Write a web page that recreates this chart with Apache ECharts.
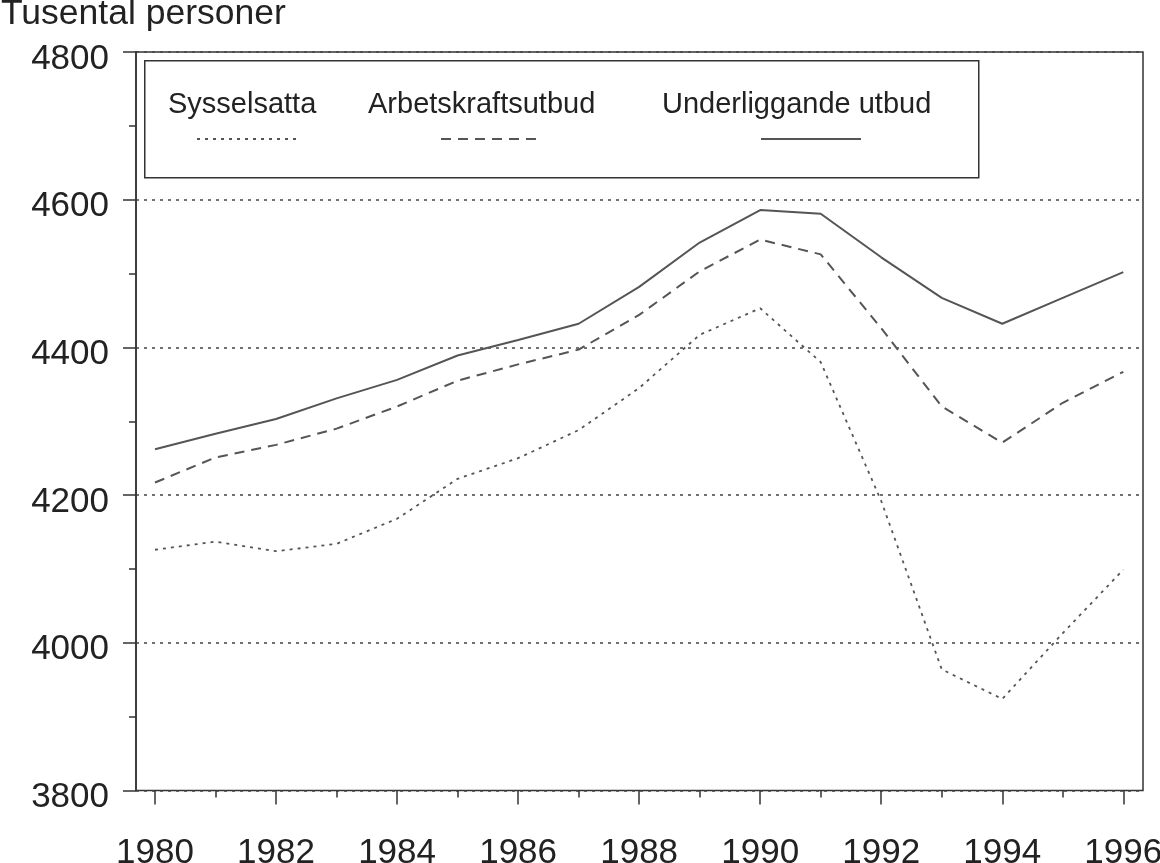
<!DOCTYPE html>
<html>
<head>
<meta charset="utf-8">
<script src="https://cdn.jsdelivr.net/npm/echarts@6/dist/echarts.min.js"></script>
<style>
  html, body { margin: 0; padding: 0; background: #fff; }
  #chart { width: 1160px; height: 863px; }
</style>
</head>
<body>
<div id="chart"></div>
<script>
// ---- data ----
const years = [1980,1981,1982,1983,1984,1985,1986,1987,1988,1989,1990,1991,1992,1993,1994,1995,1996];
const sysselsatta = [4126,4137,4124,4134,4168,4222,4250,4288,4345,4417,4453,4380,4192,3964,3924,4013,4099];
const arbetskraftsutbud = [4217,4251,4268,4290,4320,4355,4377,4397,4444,4503,4546,4526,4426,4320,4271,4325,4367];
const underliggandeUtbud = [4262,4283,4303,4331,4356,4389,4410,4432,4482,4542,4586,4581,4522,4467,4432,4467,4502];
const seriesNames = ['Sysselsatta', 'Arbetskraftsutbud', 'Underliggande utbud'];
const yMin = 3800, yMax = 4800, yStep = 200;
const xMin = 1980, xMax = 1996, xStep = 2;

const FONT = '"Liberation Sans", Arial, Helvetica, sans-serif';
const TXT = '#222222';

const pairs = vals => years.map((y, i) => [y, vals[i]]);

const chart = echarts.init(document.getElementById('chart'), null, { renderer: 'canvas' });

const textLegend = (name, left) => ({
  data: [name], left: left, top: 90, padding: 0, orient: 'horizontal',
  icon: 'none', itemWidth: 0, itemHeight: 0, itemGap: 0, selectedMode: false,
  textStyle: { fontFamily: FONT, fontSize: 29, color: TXT, padding: 0 }
});
const iconLegend = (name, left) => ({
  data: [name], left: left, top: 137, padding: 0, orient: 'horizontal',
  itemWidth: 100, itemHeight: 4, itemGap: 0, selectedMode: false,
  itemStyle: { opacity: 0 },
  formatter: () => '',
  textStyle: { fontSize: 1, padding: 0 }
});

const option = {
  backgroundColor: '#ffffff',
  animation: false,
  title: {
    text: 'Tusental personer', left: 1, top: -4, padding: 0,
    textStyle: { fontFamily: FONT, fontSize: 35.5, fontWeight: 'normal', color: TXT }
  },
  legend: [
    textLegend(seriesNames[0], 163),
    textLegend(seriesNames[1], 363),
    textLegend(seriesNames[2], 657),
    iconLegend(seriesNames[0], 196),
    iconLegend(seriesNames[1], 440),
    iconLegend(seriesNames[2], 760)
  ],
  graphic: [{
    type: 'rect', left: 144, top: 60, z: 5,
    shape: { width: 834, height: 117 },
    style: { fill: 'rgba(0,0,0,0)', stroke: '#333', lineWidth: 1.5 }
  }],
  grid: [
    { left: 136, right: 17, top: 52, bottom: 72.5, containLabel: false, outerBoundsMode: 'none',
      show: true, borderColor: '#333', borderWidth: 1.5, backgroundColor: 'transparent' },
    { left: 155, right: 36.7, top: 52, bottom: 72.5, containLabel: false, outerBoundsMode: 'none' }
  ],
  xAxis: [
    { type: 'value', gridIndex: 0, min: 0, max: 1, show: false },
    {
      type: 'value', gridIndex: 1, min: xMin, max: xMax, interval: xStep,
      axisLine: { show: false },
      axisTick: { show: true, inside: false, length: 14, lineStyle: { color: '#333', width: 1.5 } },
      minorTick: { show: true, splitNumber: 2, length: 7, lineStyle: { color: '#333', width: 1.5 } },
      splitLine: { show: false },
      axisLabel: { fontFamily: FONT, fontSize: 35, color: TXT, margin: 45, formatter: v => String(v) }
    }
  ],
  yAxis: [
    {
      type: 'value', gridIndex: 0, min: yMin, max: yMax, interval: yStep,
      axisLine: { show: true, lineStyle: { color: '#333', width: 1.5 } },
      axisTick: { show: true, length: 13, lineStyle: { color: '#333', width: 1.5 } },
      minorTick: { show: true, splitNumber: 2, length: 7, lineStyle: { color: '#333', width: 1.5 } },
      splitLine: { show: true, lineStyle: { color: '#444', width: 1.5, type: [3, 5] } },
      axisLabel: {
        margin: 27,
        formatter: v => '{v|' + v + '}',
        rich: { v: { fontFamily: FONT, fontSize: 35, color: TXT, padding: [14, 0, 0, 0] } }
      }
    },
    { type: 'value', gridIndex: 1, min: yMin, max: yMax, show: false }
  ],
  series: [
    {
      name: seriesNames[0], type: 'line', xAxisIndex: 1, yAxisIndex: 1,
      data: pairs(sysselsatta), symbol: 'none', showSymbol: false, z: 3,
      itemStyle: { color: '#555' },
      lineStyle: { color: '#555', width: 1.8, type: [3, 5] }
    },
    {
      name: seriesNames[1], type: 'line', xAxisIndex: 1, yAxisIndex: 1,
      data: pairs(arbetskraftsutbud), symbol: 'none', showSymbol: false, z: 3,
      itemStyle: { color: '#555' },
      lineStyle: { color: '#555', width: 2, type: [10, 7] }
    },
    {
      name: seriesNames[2], type: 'line', xAxisIndex: 1, yAxisIndex: 1,
      data: pairs(underliggandeUtbud), symbol: 'none', showSymbol: false, z: 3,
      itemStyle: { color: '#555' },
      lineStyle: { color: '#555', width: 2, type: 'solid' }
    }
  ]
};
chart.setOption(option);
</script>
</body>
</html>
